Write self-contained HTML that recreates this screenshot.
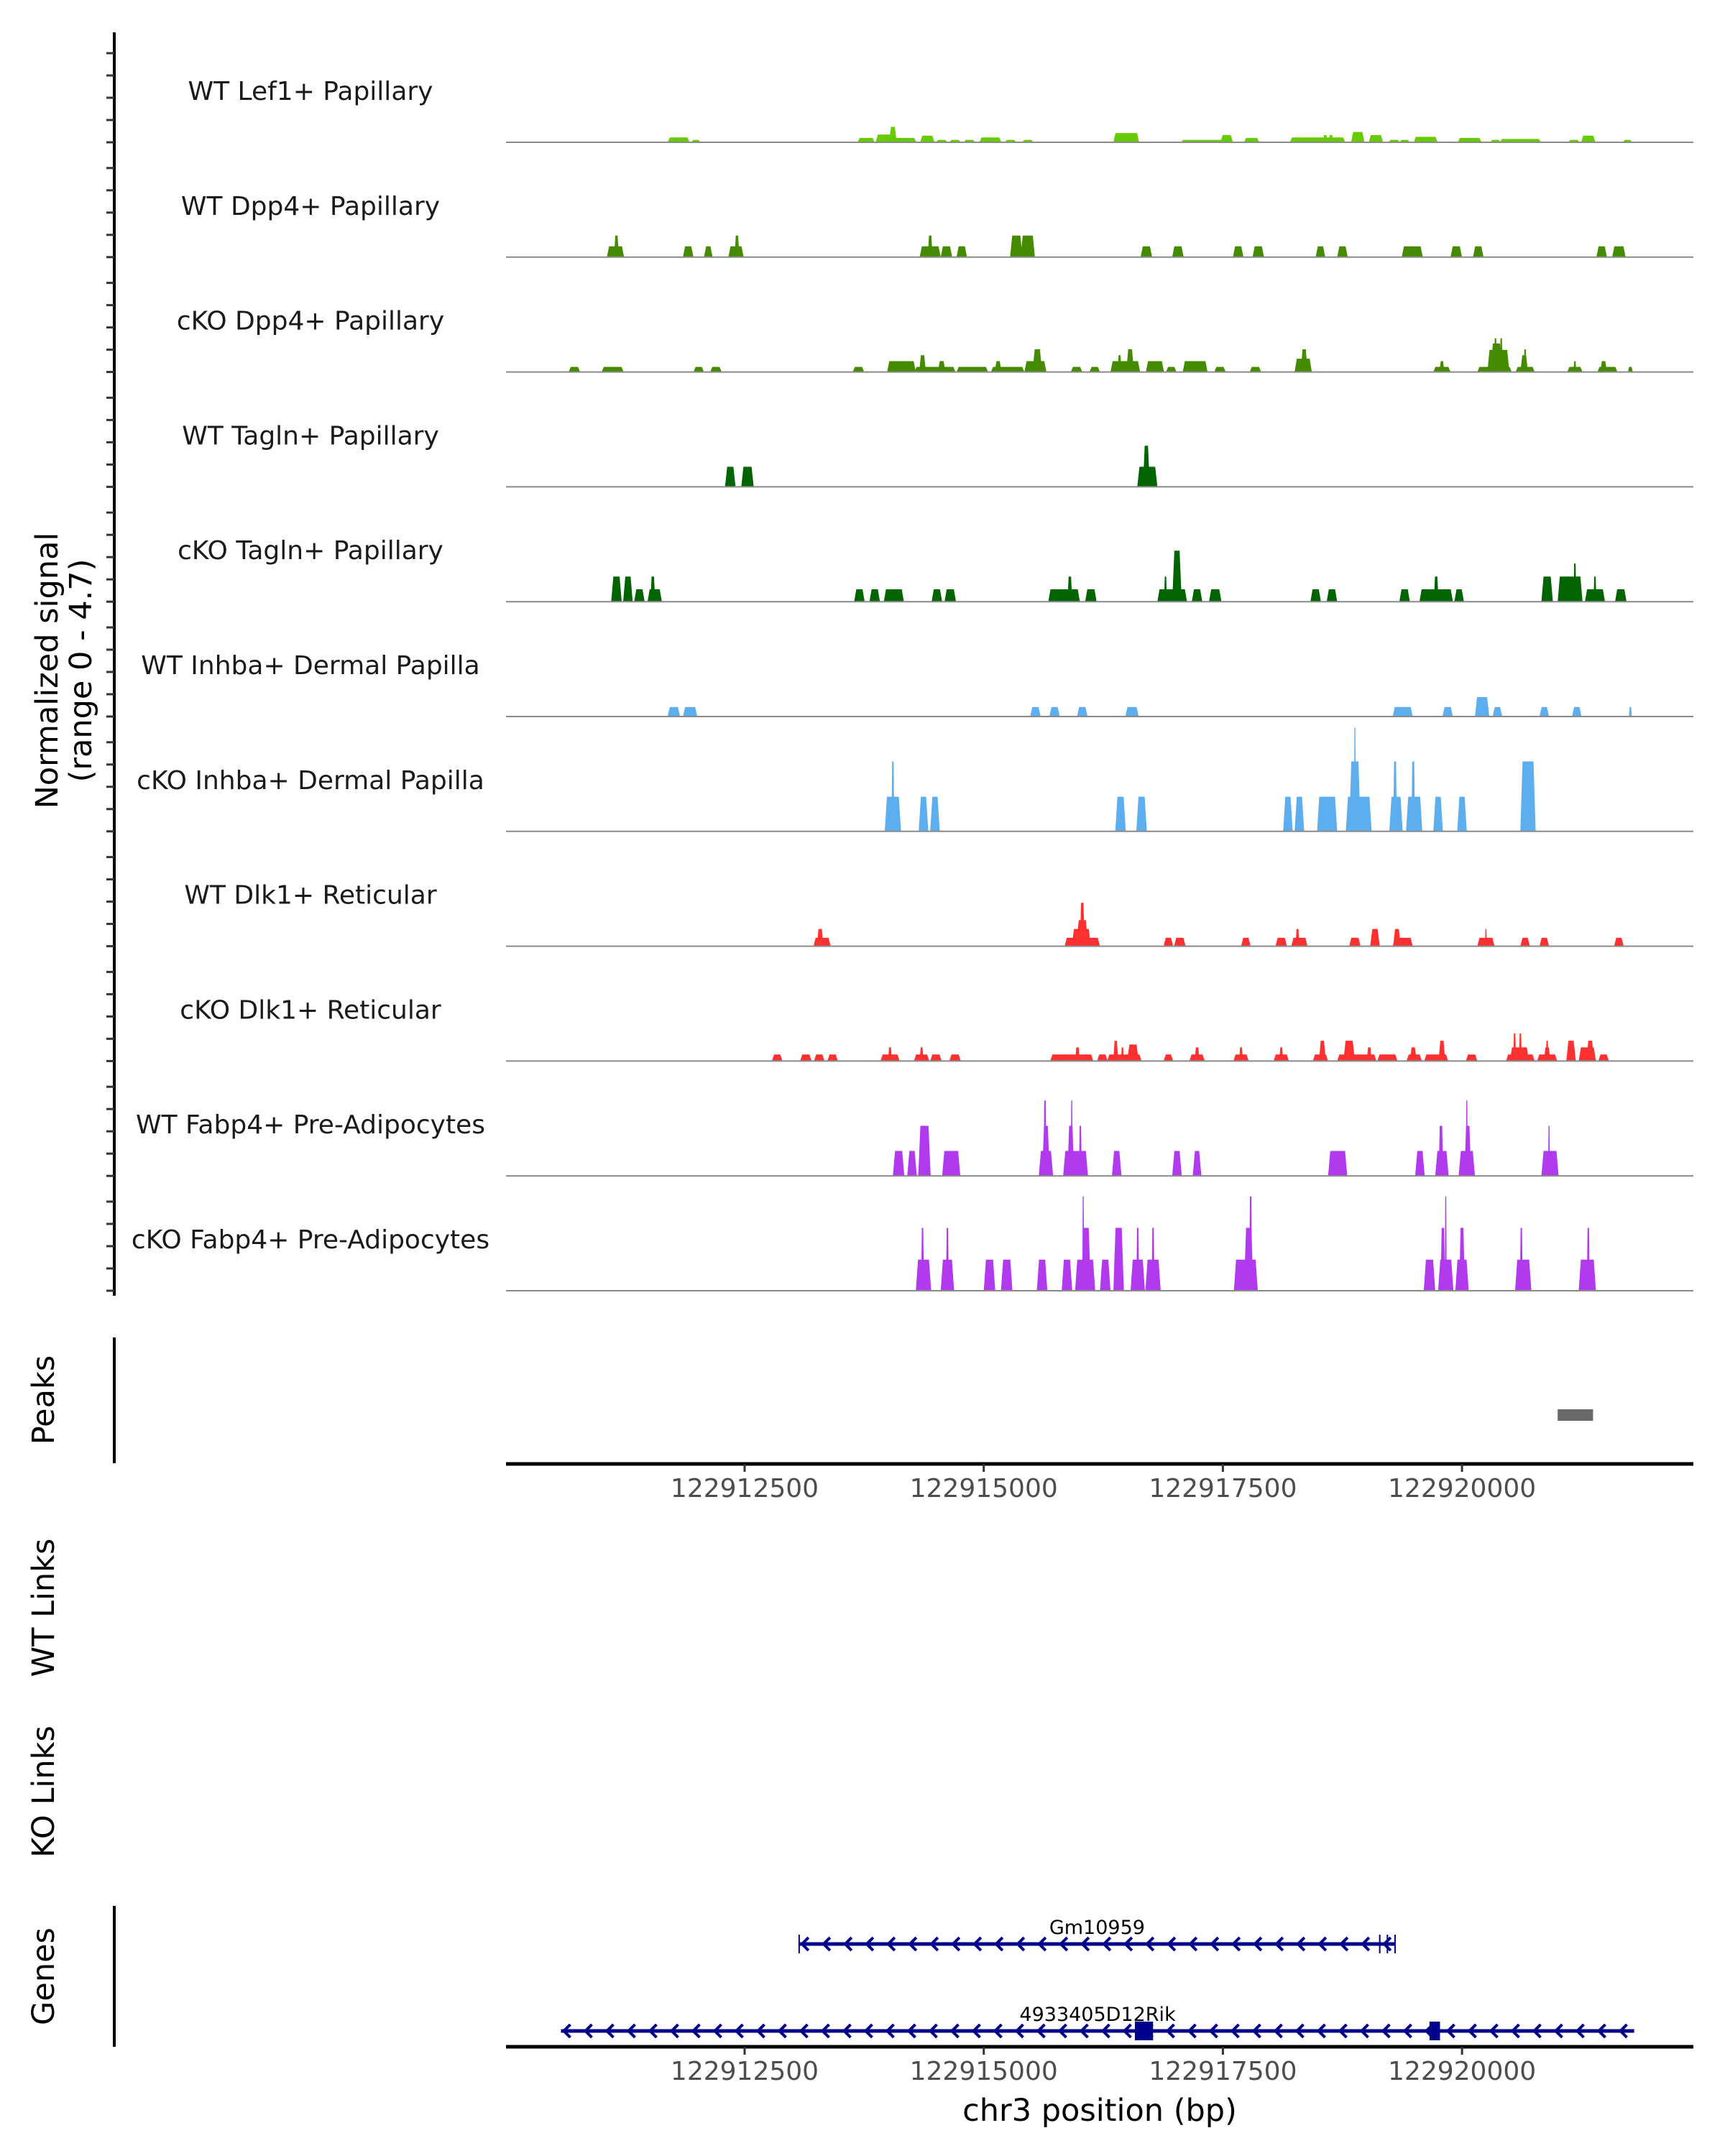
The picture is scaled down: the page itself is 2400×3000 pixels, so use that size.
<!DOCTYPE html>
<html><head><meta charset="utf-8"><style>
html,body{margin:0;padding:0;background:#fff;}
svg{display:block;font-family:"DejaVu Sans","Liberation Sans",sans-serif;}
</style></head><body>
<svg id="chart" width="2400" height="3000" viewBox="0 0 2400 3000" xmlns="http://www.w3.org/2000/svg">
<rect x="0" y="0" width="2400" height="3000" fill="#fff"/>
<g id="tracks"></g>
<g id="peaks"></g>
<g id="genes"></g>
<g id="axes"></g>
</svg>
<script>
// genomic coordinate = REGION_START + kb*1000
const REGION_START = 122910000;
const trackNames = ["WT Lef1+ Papillary","WT Dpp4+ Papillary","cKO Dpp4+ Papillary","WT Tagln+ Papillary","cKO Tagln+ Papillary","WT Inhba+ Dermal Papilla","cKO Inhba+ Dermal Papilla","WT Dlk1+ Reticular","cKO Dlk1+ Reticular","WT Fabp4+ Pre-Adipocytes","cKO Fabp4+ Pre-Adipocytes"];
const trackColors = ["#66cc00","#458b00","#458b00","#006400","#006400","#5caeee","#5caeee","#ff3030","#ff3030","#b23aee","#b23aee"];
const xTicks = [122912500,122915000,122917500,122920000];
// peaks: [center kb, width kb, signal]
const lef1WT = [[1.81,.23,.22],[1.99,.10,.11],[3.77,.18,.2],[3.97,.2,.35],[4.05,.08,.7],[4.17,.25,.2],[4.41,.15,.3],[4.56,.12,.11],[4.70,.12,.11],[4.85,.12,.11],[5.07,.23,.22],[5.28,.12,.11],[5.46,.12,.11],[6.49,.27,.42],[7.29,.46,.11],[7.54,.13,.33],[7.80,.16,.2],[8.49,.58,.22],[8.57,.05,.33],[8.63,.05,.33],[8.91,.14,.47],[9.10,.15,.33],[9.29,.12,.11],[9.40,.11,.11],[9.62,.25,.25],[10.08,.25,.2],[10.35,.11,.11],[10.61,.43,.15],[11.17,.12,.11],[11.32,.15,.3],[11.73,.1,.11]];
const dpp4WT = [[1.15,.18,.49],[1.16,.05,.98],[1.91,.11,.49],[2.12,.09,.49],[2.41,.16,.49],[2.42,.05,.98],[4.44,.22,.49],[4.44,.05,.98],[4.61,.12,.49],[4.77,.11,.49],[5.34,.13,.98],[5.46,.15,.98],[6.70,.12,.49],[7.03,.12,.49],[7.66,.11,.49],[7.87,.12,.49],[8.52,.1,.49],[8.75,.11,.49],[9.48,.22,.49],[9.94,.12,.49],[10.17,.11,.49],[11.46,.11,.49],[11.64,.14,.49]];
const dpp4KO = [[.72,.12,.23],[1.12,.23,.23],[2.02,.11,.23],[2.2,.12,.23],[3.69,.12,.23],[4.14,.3,.49],[4.49,.43,.23],[4.36,.07,.76],[4.56,.08,.49],[4.88,.33,.23],[5.25,.35,.23],[5.15,.07,.49],[5.54,.23,.49],[5.56,.1,1.03],[5.97,.12,.23],[6.16,.11,.23],[6.48,.31,.49],[6.53,.08,1.03],[6.42,.04,.76],[6.79,.19,.49],[6.96,.11,.23],[7.21,.26,.49],[7.47,.12,.23],[7.84,.12,.23],[8.34,.18,.6],[8.35,.07,1.03],[9.79,.18,.23],[9.79,.05,.49],[10.34,.36,.23],[10.38,.23,1.0],[10.36,.12,1.29],[10.35,.03,1.53],[10.41,.03,1.53],[10.66,.2,.23],[10.65,.08,.76],[10.66,.03,1.03],[11.18,.16,.23],[11.18,.03,.49],[11.52,.21,.23],[11.48,.07,.49],[11.76,.05,.23]];
const taglnWT = [[2.35,.11,.91],[2.53,.13,.91],[6.71,.21,.91],[6.70,.07,1.86]];
const taglnKO = [[1.16,.11,1.14],[1.28,.1,1.14],[1.4,.11,.56],[1.56,.15,.56],[1.54,.05,1.14],[3.70,.11,.56],[3.86,.11,.56],[4.06,.21,.56],[4.51,.11,.56],[4.65,.12,.56],[5.84,.33,.56],[5.90,.05,1.14],[6.12,.12,.56],[6.97,.31,.56],[6.90,.03,1.14],[7.02,.1,2.31],[7.23,.11,.56],[7.42,.13,.56],[8.47,.11,.56],[8.64,.11,.56],[9.40,.11,.56],[9.73,.35,.56],[9.73,.05,1.14],[9.97,.1,.56],[10.89,.12,1.14],[11.13,.26,1.14],[11.18,.03,1.73],[11.39,.21,.56],[11.39,.03,1.14],[11.66,.12,.56]];
const inhbaWT = [[1.76,.13,.43],[1.93,.15,.43],[5.54,.11,.43],[5.74,.11,.43],[6.03,.11,.43],[6.55,.14,.43],[9.38,.21,.43],[9.85,.11,.43],[10.21,.15,.88],[10.37,.1,.43],[10.86,.1,.43],[11.20,.1,.43],[11.76,.03,.43]];
const inhbaKO = [[4.05,.17,1.57],[4.05,.03,3.17],[4.37,.1,1.57],[4.49,.1,1.57],[6.43,.11,1.57],[6.65,.11,1.57],[8.18,.1,1.57],[8.30,.1,1.57],[8.59,.21,1.57],[8.92,.27,1.57],[8.88,.12,3.17],[8.88,.02,4.7],[9.31,.14,1.57],[9.30,.04,3.17],[9.50,.17,1.57],[9.49,.04,3.17],[9.75,.1,1.57],[10.00,.1,1.57],[10.69,.16,3.17]];
const dlk1WT = [[3.31,.18,.38],[3.29,.07,.78],[6.03,.37,.38],[6.02,.2,.78],[6.03,.12,1.18],[6.03,.05,1.97],[6.93,.1,.38],[7.05,.12,.38],[7.74,.1,.38],[8.11,.12,.38],[8.30,.17,.38],[8.28,.04,.78],[8.88,.12,.38],[9.09,.1,.78],[9.38,.21,.38],[9.32,.08,.78],[10.25,.18,.38],[10.25,.02,.78],[10.66,.1,.38],[10.86,.1,.38],[11.64,.1,.38]];
const dlk1KO = [[2.84,.11,.3],[3.14,.12,.3],[3.28,.11,.3],[3.42,.11,.3],[4.02,.2,.3],[4.02,.04,.62],[4.35,.16,.3],[4.35,.04,.62],[4.50,.12,.3],[4.70,.12,.3],[5.92,.45,.3],[5.98,.05,.62],[6.24,.11,.3],[6.47,.36,.3],[6.38,.05,.92],[6.45,.03,.62],[6.56,.12,.75],[6.93,.1,.3],[7.23,.16,.3],[7.23,.05,.62],[7.69,.16,.3],[7.69,.04,.62],[8.11,.16,.3],[8.11,.04,.62],[8.52,.16,.3],[8.54,.07,.92],[8.90,.41,.3],[8.82,.12,.92],[9.03,.05,.62],[9.22,.21,.3],[9.50,.16,.3],[9.49,.07,.62],[9.73,.25,.3],[9.79,.07,.92],[10.10,.12,.3],[10.61,.3,.3],[10.60,.2,.62],[10.55,.03,1.25],[10.61,.03,1.25],[10.89,.21,.3],[10.89,.07,.62],[10.89,.03,.92],[11.14,.1,.92],[11.31,.18,.62],[11.34,.08,.92],[11.48,.11,.3]];
const fabp4WT = [[4.11,.12,1.13],[4.25,.1,1.13],[4.38,.13,2.27],[4.66,.19,1.13],[5.65,.15,1.13],[5.65,.08,2.27],[5.64,.03,3.42],[5.96,.26,1.13],[5.91,.07,2.27],[5.92,.02,3.42],[6.01,.03,2.27],[6.39,.1,1.13],[7.02,.1,1.13],[7.23,.09,1.13],[8.70,.2,1.13],[9.56,.1,1.13],[9.79,.14,1.13],[9.78,.05,2.27],[10.05,.17,1.13],[10.06,.07,2.27],[10.05,.02,3.42],[10.92,.18,1.13],[10.91,.02,2.27]];
const fabp4KO = [[4.37,.16,1.41],[4.36,.03,2.85],[4.62,.14,1.41],[4.62,.03,2.85],[5.06,.12,1.41],[5.24,.12,1.41],[5.61,.11,1.41],[5.87,.11,1.41],[6.06,.21,1.41],[6.07,.1,2.85],[6.04,.02,4.27],[6.27,.11,1.41],[6.41,.11,2.85],[6.61,.15,1.41],[6.61,.03,2.85],[6.77,.16,1.41],[6.77,.03,2.85],[7.74,.25,1.41],[7.77,.1,2.85],[7.79,.03,4.27],[9.66,.12,1.41],[9.83,.16,1.41],[9.80,.05,2.85],[9.83,.02,4.27],[10.00,.14,1.41],[10.00,.06,2.85],[10.64,.17,1.41],[10.62,.03,2.85],[11.31,.18,1.41],[11.32,.03,2.85]];
const trackData = [lef1WT,dpp4WT,dpp4KO,taglnWT,taglnKO,inhbaWT,inhbaKO,dlk1WT,dlk1KO,fabp4WT,fabp4KO];
const peakRegions = [[11.00,11.37]];
const geneNames = ["Gm10959","4933405D12Rik"];
const geneStarts = [3.07,0.58];
const geneEnds = [9.30,11.80];
const exons = [[1,6.58,6.77],[1,9.66,9.77]];

const NS="http://www.w3.org/2000/svg";
const PX0=704, PX1=2356, BASE0=198, STEP=159.8, UNIT=30.7;
function X(kb){ return 1036 + ((REGION_START + kb*1000) - 122912500)/2500*332.7; }
function XB(bp){ return 1036 + (bp - 122912500)/2500*332.7; }
function Y(i,v){ return BASE0 + i*STEP - v*UNIT; }
function mk(tag,attrs,parent){ const e=document.createElementNS(NS,tag); for(const k in attrs) e.setAttribute(k,attrs[k]); parent.appendChild(e); return e; }

const gT=document.getElementById('tracks');
trackData.forEach((arr,i)=>{
  const base=Y(i,0);
  const lab=mk('text',{x:432,y:base-59,'font-size':36,'text-anchor':'middle',fill:'#1a1a1a'},gT);
  lab.textContent=trackNames[i];
  
  
  arr.forEach(p=>{
    const x0=X(p[0]-p[1]/2), x1=X(p[0]+p[1]/2), yt=Y(i,p[2]);
    const s=Math.min(3,(x1-x0)*0.25);
    const poly=mk('polygon',{points:`${x0},${base} ${x0+s},${yt} ${x1-s},${yt} ${x1},${base}`,fill:trackColors[i]},gT);
    
    
  });
  const bl=mk('line',{x1:PX0,x2:PX1,y1:base,y2:base,stroke:'#8a8a8a','stroke-width':2},gT);
  
  
});

const gA=document.getElementById('axes');
const la=mk('line',{x1:159,x2:159,y1:45,y2:1803,stroke:'#000','stroke-width':4},gA);


for(let i=0;i<11;i++){ for(let k=0;k<5;k++){ const y=Y(i,0)-k*31;
  const t=mk('line',{x1:148,x2:159,y1:y,y2:y,stroke:'#333','stroke-width':3},gA);
  
   } }
function vtext(x,y,txt,name,size){ const t=mk('text',{x:x,y:y,'font-size':size||43,'text-anchor':'middle','dominant-baseline':'central',transform:`rotate(-90 ${x} ${y})`,fill:'#000'},gA); t.textContent=txt;
  
   return t; }
vtext(66,933,'Normalized signal','y-axis-title');
vtext(113,933,'(range 0 - 4.7)','y-axis-subtitle');
vtext(61,1948,'Peaks','peaks-title');
vtext(61,2237,'WT Links','wt-links-title');
vtext(61,2493,'KO Links','ko-links-title');
vtext(61,2750,'Genes','genes-title');
const pa=mk('line',{x1:159,x2:159,y1:1861,y2:2036,stroke:'#000','stroke-width':4},gA);


const ga=mk('line',{x1:159,x2:159,y1:2652,y2:2848,stroke:'#000','stroke-width':4},gA);


function xaxis(y,name){
  const l=mk('line',{x1:PX0,x2:PX1,y1:y,y2:y,stroke:'#000','stroke-width':5},gA);
  
  
  xTicks.forEach(v=>{ const x=XB(v);
    const t=mk('line',{x1:x,x2:x,y1:y,y2:y+11,stroke:'#333','stroke-width':3},gA);
    
    
    const tl=mk('text',{x:x,y:y+46,'font-size':36,'text-anchor':'middle',fill:'#4d4d4d'},gA); tl.textContent=v;
    
     });
}
xaxis(2037,'peaks-x-axis');
xaxis(2848,'genes-x-axis');
const xl=mk('text',{x:1530,y:2951,'font-size':43,'text-anchor':'middle',fill:'#000'},gA); xl.textContent='chr3 position (bp)';



const gP=document.getElementById('peaks');
peakRegions.forEach(r=>{ const pr=mk('rect',{x:X(r[0]),y:1961,width:X(r[1])-X(r[0]),height:16,fill:'#696969'},gP);
  
   });

const gG=document.getElementById('genes');
const geneY=[2705,2826];
geneNames.forEach((n,i)=>{
  const y=geneY[i], x0=X(geneStarts[i]), x1=X(geneEnds[i]);
  const ln=mk('line',{x1:x0,x2:x1,y1:y,y2:y,stroke:'#00008b','stroke-width':5},gG);
  
  
  for(let x=x0+4;x<x1-10;x+=30){
    const c=mk('polyline',{points:`${x+9},${y-9} ${x},${y} ${x+9},${y+9}`,fill:'none',stroke:'#00008b','stroke-width':4},gG);
    
    
  }
  const t=mk('text',{x:(x0+x1)/2,y:y-14,'font-size':27,'text-anchor':'middle',fill:'#000'},gG); t.textContent=n;
  
  
});
exons.forEach(e=>{ const y=geneY[e[0]]; const r=mk('rect',{x:X(e[1]),y:y-13,width:X(e[2])-X(e[1]),height:26,fill:'#00008b'},gG);
  
   });
[[0,geneStarts[0]],[0,geneEnds[0]-0.16],[0,geneEnds[0]-0.08],[0,geneEnds[0]]].forEach(b=>{ const x=X(b[1]), y=geneY[b[0]];
  const bar=mk('line',{x1:x,x2:x,y1:y-13,y2:y+13,stroke:'#00008b','stroke-width':2},gG);
  
   });
</script>
</body></html>
